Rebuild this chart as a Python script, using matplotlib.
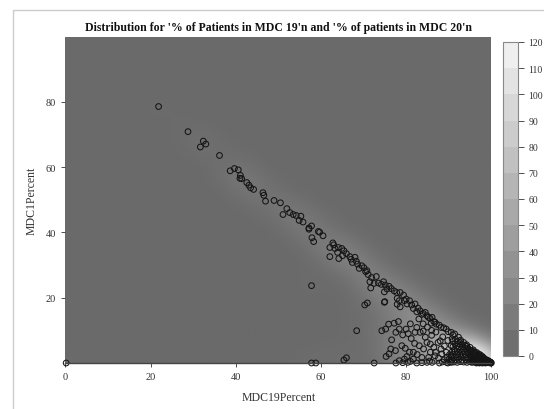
import numpy as np
import matplotlib
matplotlib.use("Agg")
import matplotlib.pyplot as plt
from matplotlib.colors import LinearSegmentedColormap, ListedColormap, BoundaryNorm
from matplotlib.patches import Rectangle
import matplotlib.colorbar as mcolorbar

plt.rcParams['font.family'] = ['Liberation Serif', 'DejaVu Serif']

title = "Distribution for '% of Patients in MDC 19'n and '% of patients in MDC 20'n"
x_label = "MDC19Percent"
y_label = "MDC1Percent"
x_ticks = [0, 20, 40, 60, 80, 100]
y_ticks = [20, 40, 60, 80]
cb_ticks = [0, 10, 20, 30, 40, 50, 60, 70, 80, 90, 100, 110, 120]

# points lying close to the diagonal MDC19 + MDC1 = 100
line_pts = [
    (21.9, 78.6), (28.8, 70.9), (32.4, 68.0), (33.0, 67.1), (31.7, 66.2), (36.2, 63.6),
    (38.7, 58.9), (39.7, 59.6), (40.6, 59.2), (41.1, 57.5), (41.0, 56.6), (41.4, 56.5),
    (42.6, 55.3), (43.1, 54.5), (43.5, 53.7), (44.2, 53.2), (46.4, 52.2), (46.6, 51.4),
    (47.0, 49.6), (49.0, 49.8), (50.5, 49.1), (52.0, 47.3), (51.1, 45.5), (52.7, 46.1),
    (53.5, 45.5), (54.2, 45.2), (55.3, 45.0), (54.9, 43.7), (55.8, 43.2), (57.2, 41.4),
    (57.8, 42.0), (57.2, 41.0), (57.9, 38.4), (58.3, 37.2), (59.4, 40.3), (59.7, 40.1),
    (60.5, 39.0), (62.8, 36.8), (62.1, 35.4), (62.1, 32.6), (63.3, 35.1), (63.9, 33.9),
    (64.1, 35.4), (64.9, 35.1), (65.4, 34.4), (64.2, 32.0), (65.1, 32.9), (66.8, 32.6),
    (67.1, 31.8), (68.0, 32.4), (67.4, 30.8), (68.6, 30.3), (69.6, 29.8), (69.0, 29.0),
    (70.1, 29.2), (70.8, 28.3), (71.1, 27.1), (71.9, 26.2), (71.5, 24.9), (71.7, 23.0),
    (72.5, 24.4), (73.5, 24.5), (74.2, 24.1), (74.7, 24.9), (75.1, 23.9), (75.5, 22.7),
    (74.9, 21.8), (74.9, 18.6), (77.2, 22.1), (77.8, 21.6), (78.6, 21.6), (79.4, 20.8),
    (77.9, 19.8), (78.4, 19.1), (79.6, 19.1), (80.2, 18.1), (80.8, 19.1), (81.3, 17.8),
    (81.7, 16.7), (82.1, 18.1), (82.5, 15.7), (83.7, 14.9), (84.5, 15.5), (84.9, 14.5),
    (85.6, 13.7), (86.1, 14.0), (86.5, 12.7), (85.9, 12.2), (87.1, 11.9), (88.2, 10.9),
    (89.4, 10.4), (90.6, 9.4), (91.4, 8.9), (92.3, 7.9), (63.0, 36.2), (66.0, 33.5),
    (68.3, 31.2), (70.5, 28.0), (73.0, 26.5), (76.0, 23.5), (76.5, 22.8), (80.0, 19.6),
    (82.8, 16.8), (83.3, 16.0), (84.0, 15.2), (85.2, 14.0), (86.8, 12.5), (87.8, 11.6),
    (88.8, 10.8), (89.9, 9.6), (91.0, 8.6), (92.8, 7.0), (93.5, 6.3), (94.2, 5.6),
    (95.0, 4.8), (95.8, 4.0), (96.6, 3.2), (97.4, 2.5),
]

# points scattered inside the triangle
inner_pts = [
    (57.8, 23.7), (70.3, 17.8), (70.9, 18.4), (68.4, 9.9), (74.3, 9.9), (75.2, 10.4),
    (75.9, 11.9), (77.2, 12.2), (78.2, 12.7), (76.6, 7.1), (76.4, 4.3), (75.3, 2.0),
    (77.6, 9.4), (78.4, 10.4), (80.0, 10.4), (79.2, 8.6), (79.0, 5.3), (79.8, 4.5),
    (80.8, 3.3), (81.7, 3.3), (82.1, 9.4), (82.5, 10.9), (83.3, 9.4), (84.5, 7.9),
    (83.1, 5.3), (84.1, 4.3), (85.7, 5.8), (86.5, 4.8), (87.5, 6.3), (88.2, 4.3),
    (86.9, 3.3), (85.7, 3.3), (84.9, 6.3), (88.6, 8.0), (89.8, 6.9), (90.6, 5.3),
    (89.4, 3.3), (90.6, 2.2), (85.3, 1.7), (83.7, 1.7), (81.7, 1.2), (79.6, 1.2),
    (78.4, 0.7), (65.4, 0.9), (66.0, 1.6), (75.0, 18.8), (77.9, 18.0), (78.6, 17.2),
    (80.5, 9.0), (81.2, 7.5), (82.0, 6.0), (86.0, 8.5), (87.0, 9.5), (85.0, 11.0),
    (84.0, 12.0), (83.0, 13.5), (86.8, 2.2), (87.6, 1.5), (88.4, 2.8), (82.6, 2.6),
    (80.2, 2.0), (77.5, 3.8), (76.0, 2.8), (86.0, 10.0), (88.0, 6.8), (89.0, 5.2),
    (84.0, 9.8), (81.0, 12.0),
]

# points with MDC1Percent about zero
zero_pts = [
    (0.2, 0.0), (57.8, 0.0), (58.8, 0.0), (72.5, 0.0), (77.6, 0.0), (79.2, 0.1),
    (80.4, 0.2), (82.5, 0.0), (83.7, 0.1), (84.9, 0.2), (86.1, 0.2), (87.8, 0.0),
    (89.8, 0.0), (90.6, 0.2), (81.0, 0.5), (85.5, 0.6),
]

# dense cluster in the corner near MDC19 = 100
corner_pts = [
    (88.5, 0.3), (89.5, 0.2), (90.3, 0.4), (91.2, 0.3), (92.0, 0.2), (92.8, 0.4),
    (93.5, 0.3), (94.3, 0.2), (95.0, 0.4), (95.8, 0.3), (96.5, 0.2), (97.2, 0.4),
    (97.9, 0.3), (98.6, 0.2), (99.3, 0.3), (99.8, 0.1),
    (89.0, 1.0), (90.0, 1.1), (90.8, 0.9), (91.6, 1.0), (92.4, 1.1), (93.2, 0.9),
    (94.0, 1.0), (94.7, 1.1), (95.5, 0.9), (96.2, 1.0), (96.9, 1.1), (97.6, 0.9),
    (98.3, 1.0), (98.9, 0.8),
    (89.6, 1.8), (90.5, 1.9), (91.3, 1.7), (92.1, 1.8), (92.9, 1.9), (93.7, 1.7),
    (94.4, 1.8), (95.2, 1.9), (95.9, 1.7), (96.6, 1.8), (97.3, 1.7), (97.9, 1.6),
    (90.2, 2.6), (91.0, 2.7), (91.8, 2.5), (92.6, 2.6), (93.4, 2.7), (94.1, 2.5),
    (94.9, 2.6), (95.6, 2.7), (96.3, 2.4), (97.0, 2.3),
    (90.8, 3.4), (91.5, 3.5), (92.3, 3.3), (93.1, 3.4), (93.8, 3.5), (94.6, 3.3),
    (95.3, 3.4), (96.0, 3.2),
    (91.3, 4.2), (92.0, 4.3), (92.8, 4.1), (93.5, 4.2), (94.3, 4.3), (95.0, 4.0),
    (91.0, 5.0), (91.8, 5.1), (92.5, 4.9), (93.3, 5.0), (94.2, 5.1),
    (91.5, 5.8), (92.3, 5.9), (93.2, 5.7),
    (91.0, 6.6), (92.0, 6.7), (92.8, 6.5),
    (90.8, 7.4), (91.6, 7.3),
    (96.0, 0.6), (96.8, 0.7), (97.5, 0.6), (98.2, 0.5), (98.8, 0.6), (99.5, 0.5),
    (96.5, 1.4), (97.2, 1.5), (97.8, 1.3), (98.5, 1.2),
    (98.0, 0.1), (98.7, 0.1), (99.1, 0.2), (99.6, 0.1), (100.0, 0.0),
    (95.4, 0.2), (96.1, 0.4), (96.7, 0.3), (97.3, 0.1), (97.7, 0.5), (98.1, 0.8),
    (98.4, 0.3), (98.9, 0.4), (99.2, 0.7), (99.4, 0.1), (99.7, 0.3), (99.9, 0.2),
    (95.7, 1.2), (96.3, 1.6), (96.9, 1.9), (97.4, 1.1), (97.9, 2.0), (98.2, 1.6),
    (98.7, 1.0), (99.0, 0.9), (99.3, 0.6), (99.0, 0.3), (98.5, 0.7), (97.0, 0.8),
    (95.1, 2.2), (95.8, 2.5), (96.4, 2.9), (96.8, 2.1), (97.1, 2.7), (97.6, 2.2),
    (94.7, 3.0), (95.4, 3.8), (95.9, 3.5), (96.3, 3.0), (94.5, 4.6), (93.9, 5.4),
    (99.5, 0.4), (99.8, 0.0), (99.1, 0.5), (98.6, 0.0), (97.9, 0.0), (97.2, 0.0),
    (96.5, 0.0), (99.6, 0.2), (99.2, 0.1), (98.8, 0.2), (98.3, 0.4), (97.6, 0.3),
]

all_pts = np.array(line_pts + inner_pts + zero_pts + corner_pts)
px, py = all_pts[:, 0], all_pts[:, 1]

# kernel density estimate of the points
gx = np.linspace(0, 100, 251)
gy = np.linspace(0, 100, 251)
GX, GY = np.meshgrid(gx, gy)
h = 3.8
dens = np.zeros_like(GX)
for xi, yi in zip(px, py):
    dens += np.exp(-((GX - xi) ** 2 + (GY - yi) ** 2) / (2 * h * h))
dens = dens / dens.max() * 120

W, H = 544, 410
fig = plt.figure(figsize=(W / 100, H / 100), dpi=100)
fig.patches.append(Rectangle((13 / W, -0.02), 1.0, (H - 10.5) / H + 0.02,
                             transform=fig.transFigure, fill=False,
                             edgecolor='#cccccc', linewidth=1.0))

ax = fig.add_axes([65.3 / W, (H - 364) / H, 426 / W, 326.3 / H])
cmap = LinearSegmentedColormap.from_list('g', ['#6a6a6a', '#f4f4f4'])
ax.imshow(dens, origin='lower', extent=[0, 100, 0, 100], cmap=cmap,
          vmin=0, vmax=120, aspect='auto', interpolation='bilinear', zorder=0)
ax.scatter(px, py, s=17, facecolors='none', edgecolors='#151515',
           linewidths=0.75, zorder=2, clip_on=False)
ax.set_xlim(0, 100)
ax.set_ylim(0, 100)
ax.set_xticks(x_ticks)
ax.set_yticks(y_ticks)
ax.tick_params(labelsize=7.5, length=3, width=0.6, colors='#333333',
               labelcolor='#333333')
for s in ['top', 'right', 'left']:
    ax.spines[s].set_visible(False)
ax.spines['bottom'].set_color('#444444')
ax.spines['bottom'].set_linewidth(1.0)
ax.set_xlabel(x_label, fontsize=8.5, color='#333333', labelpad=7)
ax.set_ylabel(y_label, fontsize=8.5, color='#333333', labelpad=6)
fig.text((65.3 + 491.3) / 2 / W, 1 - 28 / H, title, ha='center', va='center',
         fontsize=8.5, fontweight='bold', color='#111111')

cax = fig.add_axes([503 / W, (H - 357) / H, 15 / W, 314 / H])
levels = np.arange(0, 130, 10)
band_colors = [cmap((v + 5) / 120) for v in levels[:-1]]
cb = mcolorbar.ColorbarBase(cax, cmap=ListedColormap(band_colors),
                            norm=BoundaryNorm(levels, 12), ticks=cb_ticks,
                            orientation='vertical')
cb.outline.set_edgecolor('#888888')
cb.outline.set_linewidth(0.8)
cax.tick_params(labelsize=7, length=4, width=0.6, colors='#333333',
                labelcolor='#333333')

fig.savefig('out.png', dpi=100)
